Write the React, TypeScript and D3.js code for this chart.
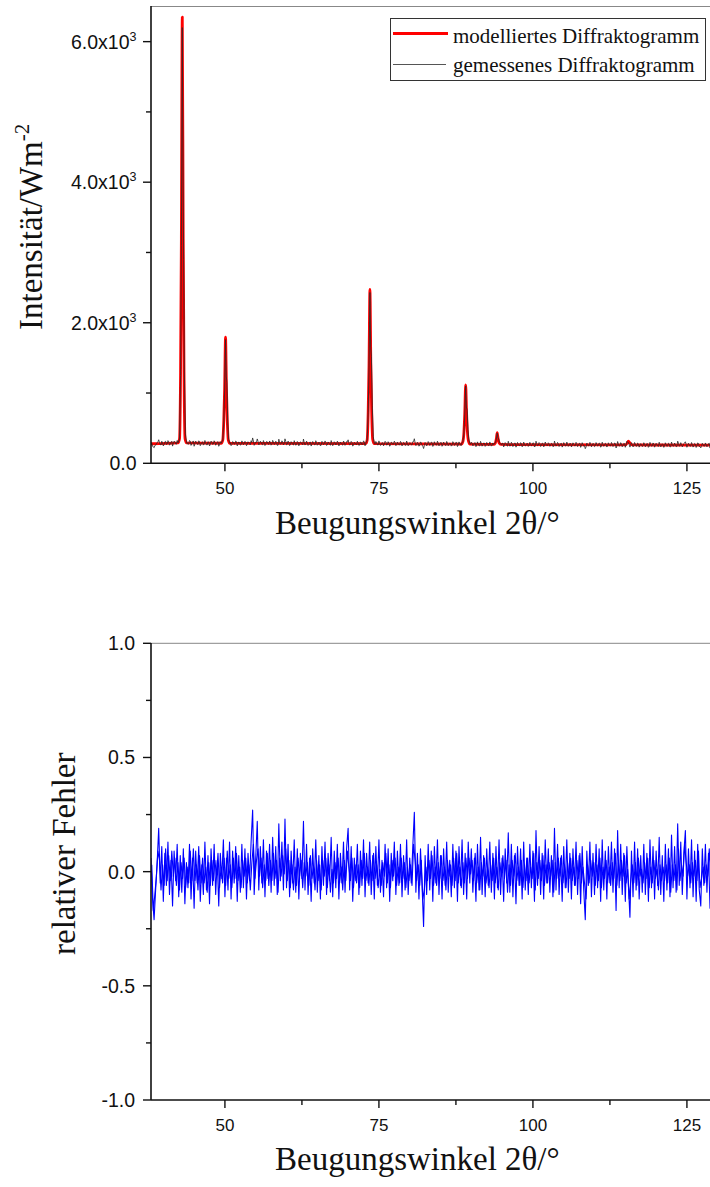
import React from 'react';
import * as d3 from 'd3';

// ---------- axis ticks ----------
const xTicksMajor = [50, 75, 100, 125];
const xTicksMinor = [62.5, 87.5, 112.5];
const topYMajor = [0, 2000, 4000, 6000];
const topYLabels = ['0.0', '2.0x10', '4.0x10', '6.0x10'];
const topYSup = ['', '3', '3', '3'];
const topYMinor = [1000, 3000, 5000];
const botYMajor = [-1, -0.5, 0, 0.5, 1];
const botYLabels = ['-1.0', '-0.5', '0.0', '0.5', '1.0'];
const botYMinor = [-0.75, -0.25, 0.25, 0.75];

// ---------- modelled diffractogram ----------
const modelX = [
  38, 42.38, 42.63, 42.8, 42.93, 43.08, 43.23, 43.36, 43.53, 43.78,
  49.4, 49.65, 49.82, 49.95, 50.1, 50.25, 50.38, 50.55, 50.8,
  72.84, 73.09, 73.26, 73.39, 73.54, 73.69, 73.82, 73.99, 74.24,
  88.38, 88.63, 88.8, 88.93, 89.08, 89.23, 89.36, 89.53, 89.78,
  93.6, 93.9, 94.06, 94.2, 94.34, 94.5, 94.8,
  115.0, 115.3, 115.5, 115.75, 116.1, 130,
];
const modelY = [
  278, 290, 350, 1300, 3200, 6350, 3200, 1300, 350, 290,
  285, 330, 620, 1050, 1795, 1050, 620, 330, 285,
  280, 330, 740, 1380, 2475, 1400, 760, 340, 280,
  274, 310, 440, 700, 1115, 720, 460, 320, 274,
  268, 290, 350, 435, 355, 292, 268,
  262, 285, 315, 288, 262, 258,
];

const measPeakX = [
  42.38, 42.63, 42.8, 42.93, 43.08, 43.2, 43.3, 43.42, 43.58, 43.78,
  49.4, 49.65, 49.82, 49.95, 50.1, 50.22, 50.32, 50.45, 50.6, 50.8,
  72.84, 73.09, 73.26, 73.39, 73.54, 73.66, 73.78, 73.92, 74.08, 74.26,
  88.38, 88.63, 88.8, 88.93, 89.08, 89.2, 89.32, 89.45, 89.6, 89.8,
  93.6, 93.9, 94.06, 94.2, 94.32, 94.44, 94.58, 94.8,
];
const measPeakY = [
  290, 345, 1250, 3100, 6200, 4200, 2900, 1300, 420, 290,
  285, 330, 600, 1030, 1760, 1240, 1150, 600, 340, 285,
  280, 330, 720, 1360, 2430, 1650, 1520, 820, 380, 280,
  274, 310, 430, 690, 1100, 800, 755, 480, 330, 274,
  268, 290, 345, 430, 370, 345, 295, 268,
];

// ---------- relative error ----------
// two interleaved sample sets: A at 38.000 + k*0.25, B at 38.125 + k*0.25
const residualStart = 38;
const residualStep = 0.25;
const residualA = [
  0.06, -0.12, -0.21, -0.08, 0.04, 0.19, -0.05, 0.11, -0.13, 0.08, -0.06, 0.13, -0.1, 0.05, -0.15, 0.09, -0.04, 0.12, -0.11, 0.07,
  -0.09, 0.1, -0.14, 0.04, -0.07, 0.12, -0.12, 0.06, -0.16, 0.09, -0.05, 0.11, -0.13, 0.03, -0.1, 0.13, -0.08, 0.07, -0.14, 0.1,
  -0.06, 0.12, -0.1, 0.05, -0.15, 0.08, -0.03, 0.14, -0.11, 0.06, -0.08, 0.13, -0.12, 0.09, -0.05, 0.11, -0.13, 0.07, -0.09, 0.12,
  -0.07, 0.1, -0.12, 0.08, -0.04, 0.13, 0.27, -0.1, 0.06, 0.22, -0.08, 0.11, -0.05, 0.14, -0.11, 0.09, -0.03, 0.12, -0.09, 0.15,
  -0.06, 0.11, -0.1, 0.21, -0.04, 0.13, -0.08, 0.23, -0.07, 0.12, -0.11, 0.09, -0.05, 0.14, -0.09, 0.1, -0.12, 0.08, -0.03, 0.22,
  -0.08, 0.12, -0.1, 0.06, -0.13, 0.1, -0.05, 0.14, -0.09, 0.07, -0.12, 0.11, -0.06, 0.13, -0.1, 0.08, -0.04, 0.15, -0.11, 0.09,
  -0.07, 0.12, -0.12, 0.08, -0.05, 0.13, -0.09, 0.1, 0.19, -0.08, 0.11, -0.13, 0.06, -0.04, 0.12, -0.1, 0.09, -0.06, 0.14, -0.11,
  0.08, -0.05, 0.13, -0.1, 0.07, -0.12, 0.11, -0.06, 0.14, -0.09, 0.05, -0.11, 0.12, -0.07, 0.1, -0.13, 0.08, -0.04, 0.13, -0.1,
  0.09, -0.06, 0.12, -0.11, 0.07, -0.08, 0.14, -0.1, 0.06, -0.05, 0.11, 0.26, -0.09, 0.08, -0.12, 0.1, -0.06, -0.24, 0.07, -0.1,
  0.12, -0.08, 0.09, -0.13, 0.11, -0.05, 0.14, -0.1, 0.07, -0.12, 0.1, -0.06, 0.13, -0.09, 0.05, -0.11, 0.12, -0.07, 0.09, -0.13,
  0.11, -0.06, 0.14, -0.1, 0.08, -0.12, 0.13, -0.05, 0.1, -0.09, 0.06, -0.13, 0.12, -0.08, 0.15, -0.1, 0.07, -0.11, 0.1, -0.06,
  0.13, -0.09, 0.08, -0.12, 0.11, -0.07, 0.14, -0.1, 0.06, -0.13, 0.1, -0.05, 0.17, -0.09, 0.12, -0.11, 0.07, -0.14, 0.11, -0.06,
  0.1, -0.12, 0.13, -0.08, 0.06, -0.1, 0.12, -0.07, 0.09, -0.13, 0.18, -0.06, 0.11, -0.1, 0.08, -0.12, 0.14, -0.05, 0.1, -0.09,
  0.07, -0.11, 0.19, -0.08, 0.12, -0.1, 0.06, -0.13, 0.11, -0.07, 0.14, -0.09, 0.08, -0.12, 0.1, -0.06, 0.13, -0.1, 0.07, -0.14,
  0.11, -0.08, -0.21, 0.09, -0.06, 0.13, -0.11, 0.08, -0.1, 0.12, -0.07, 0.1, -0.13, 0.14, -0.08, 0.09, -0.12, 0.11, -0.05, 0.13,
  -0.09, 0.1, -0.17, 0.18, -0.07, 0.12, -0.1, 0.08, -0.13, 0.11, -0.06, -0.2, 0.09, -0.11, 0.13, -0.08, 0.1, -0.12, 0.07, -0.09,
  0.12, -0.1, 0.08, -0.13, 0.14, -0.07, 0.11, -0.12, 0.09, -0.06, 0.15, -0.1, 0.07, -0.13, 0.12, -0.08, 0.1, -0.11, 0.16, -0.07,
  0.11, -0.09, 0.21, -0.06, 0.13, -0.1, 0.08, 0.18, -0.12, 0.1, -0.07, 0.14, -0.11, 0.09, -0.13, 0.12, -0.08, -0.15, 0.1, -0.06,
  0.12, -0.09, 0.08, -0.16, 0.1, -0.12, 0.07, -0.05,
];
const residualB = [
  0.03, -0.17, -0.1, -0.02, 0.09, 0.05, -0.08, 0.03, -0.06, 0.1, -0.04, 0.07, -0.04, 0.09, -0.02, 0.06, -0.06, 0.04, -0.08, 0.04,
  -0.03, 0.06, -0.07, 0.02, -0.05, 0.09, -0.04, 0.1, -0.04, 0.03, -0.08, 0.07, -0.05, 0.06, -0.05, 0.02, -0.09, 0.04, -0.06, 0.05,
  -0.04, 0.05, -0.02, 0.08, -0.07, 0.02, -0.05, 0.06, -0.06, 0.09, -0.03, 0.03, -0.07, 0.06, -0.03, 0.08, -0.04, 0.02, -0.07, 0.05,
  -0.02, 0.06, -0.05, 0.03, -0.08, 0.04, 0.12, -0.03, 0.05, 0.1, -0.02, 0.06, -0.07, 0.03, -0.04, 0.08, -0.06, 0.05, -0.04, 0.08,
  -0.03, 0.05, -0.09, 0.06, -0.02, 0.07, -0.01, 0.1, -0.04, 0.05, -0.07, 0.03, -0.08, 0.02, -0.06, 0.06, -0.02, 0.05, -0.07, 0.04,
  -0.02, 0.04, -0.06, 0.07, -0.03, 0.02, -0.08, 0.05, -0.04, 0.03, -0.08, 0.05, -0.02, 0.06, -0.07, 0.03, -0.09, 0.01, -0.05, 0.04,
  -0.03, 0.06, -0.05, 0.02, -0.08, 0.05, -0.04, 0.09, 0.02, -0.04, 0.06, -0.07, 0.03, -0.05, 0.03, -0.07, 0.05, -0.03, 0.08, -0.04,
  0.02, -0.06, 0.05, -0.04, 0.08, -0.03, 0.03, -0.07, 0.01, -0.06, 0.04, -0.02, 0.08, -0.05, 0.03, -0.07, 0.05, -0.02, 0.06, -0.06,
  0.02, -0.05, 0.06, -0.03, 0.04, -0.07, 0.02, -0.04, 0.03, -0.06, 0.12, 0.05, -0.04, 0.03, -0.06, 0.05, -0.12, -0.08, 0.02, -0.04,
  0.05, -0.03, 0.07, -0.06, 0.02, -0.06, 0.04, -0.03, 0.07, -0.04, 0.02, -0.08, 0.05, -0.02, 0.03, -0.06, 0.06, -0.04, 0.08, -0.05,
  0.02, -0.07, 0.04, -0.05, 0.06, -0.03, 0.06, -0.01, 0.05, -0.04, 0.08, -0.05, 0.02, -0.08, 0.04, -0.02, 0.06, -0.05, 0.01, -0.07,
  0.03, -0.04, 0.06, -0.05, 0.02, -0.08, 0.04, -0.02, 0.07, -0.03, 0.05, -0.09, 0.03, -0.06, 0.05, -0.02, 0.08, -0.04, 0.02, -0.06,
  0.05, -0.07, 0.03, -0.04, 0.06, -0.05, 0.02, -0.03, 0.08, -0.08, 0.04, -0.03, 0.05, -0.04, 0.07, -0.06, 0.03, -0.05, 0.04, -0.02,
  0.05, -0.09, 0.04, -0.03, 0.06, -0.02, 0.07, -0.05, 0.03, -0.07, 0.04, -0.03, 0.06, -0.04, 0.02, -0.06, 0.05, -0.03, 0.08, -0.05,
  0.02, -0.05, -0.12, 0.03, -0.05, 0.05, -0.02, 0.04, -0.06, 0.03, -0.04, 0.06, -0.07, 0.02, -0.03, 0.05, -0.05, 0.02, -0.06, 0.04,
  -0.03, 0.08, -0.06, 0.04, -0.04, 0.05, -0.02, 0.07, -0.05, 0.01, -0.12, -0.04, 0.03, -0.05, 0.04, -0.06, 0.06, -0.02, 0.01, -0.05,
  0.04, -0.03, 0.06, -0.07, 0.02, -0.05, 0.05, -0.03, 0.01, -0.08, 0.03, -0.04, 0.02, -0.04, 0.03, -0.05, 0.06, -0.09, 0.03, -0.04,
  0.03, -0.08, 0.1, -0.04, 0.03, -0.02, 0.12, 0.04, -0.02, 0.03, -0.05, 0.04, -0.02, 0.05, -0.04, 0.09, -0.07, -0.03, 0.02, -0.05,
  0.03, -0.02, 0.1, -0.04, 0.05, -0.01, 0.03, -0.02,
];

const legendLabels = ['modelliertes Diffraktogramm', 'gemessenes Diffraktogramm'];
const xTitle = 'Beugungswinkel 2θ/°';

// ---------- scales ----------
const X0 = 151;
const xScale = d3.scaleLinear().domain([38, 130]).range([X0, X0 + 92 * 6.16]);
const yTop = d3.scaleLinear().domain([0, 6500]).range([463.3, 6.5]);
const yBot = d3.scaleLinear().domain([-1, 1]).range([1100, 643.3]);

const RIGHT = 710;
const sansFont = '"Liberation Sans", Arial, sans-serif';
const serifFont = '"Liberation Serif", "Times New Roman", serif';

export default function App() {
  const ptsA: [number, number][] = residualA.map((v, i) => [residualStart + i * residualStep, v]);
  const ptsB: [number, number][] = residualB.map((v, i) => [residualStart + residualStep / 2 + i * residualStep, v]);
  const resPts = [...ptsA, ...ptsB].sort((a, b) => a[0] - b[0]);

  const modelAt = (x: number) => {
    const i = d3.bisectRight(modelX, x);
    if (i <= 0) return modelY[0];
    if (i >= modelX.length) return modelY[modelY.length - 1];
    const t = (x - modelX[i - 1]) / (modelX[i] - modelX[i - 1]);
    return modelY[i - 1] + t * (modelY[i] - modelY[i - 1]);
  };

  // windows covered by the measured reflections
  const windows: [number, number][] = [];
  measPeakX.forEach((x, i) => {
    if (i === 0 || x - measPeakX[i - 1] > 1) windows.push([x, x]);
    else windows[windows.length - 1][1] = x;
  });
  const inWindow = (x: number) => windows.some(([a, b]) => x >= a && x <= b);

  // measured = model * (1 + relative error) away from the reflections
  const measured: [number, number][] = [];
  resPts.forEach(([x, r]) => {
    if (!inWindow(x)) measured.push([x, modelAt(x) * (1 + r)]);
  });
  measPeakX.forEach((x, i) => measured.push([x, measPeakY[i]]));
  measured.sort((a, b) => a[0] - b[0]);

  const modelLine = d3
    .line<number>()
    .x((_, i) => xScale(modelX[i]))
    .y((d) => yTop(d))
    .curve(d3.curveMonotoneX)(modelY) as string;

  const measLine = d3
    .line<[number, number]>()
    .x((d) => xScale(d[0]))
    .y((d) => yTop(d[1]))(measured) as string;

  const resGen = d3
    .line<[number, number]>()
    .x((d) => xScale(d[0]))
    .y((d) => yBot(d[1]));
  const resLineA = resGen(ptsA) as string;
  const resLineB = resGen(ptsB) as string;

  const axisColor = '#111';

  const xAxis = (y0: number, labelBase: number, key: string) => (
    <g key={key}>
      <line x1={X0} x2={RIGHT} y1={y0} y2={y0} stroke={axisColor} strokeWidth={1.6} />
      {xTicksMajor.map((t) => (
        <g key={'M' + t}>
          <line x1={xScale(t)} x2={xScale(t)} y1={y0} y2={y0 + 8} stroke={axisColor} strokeWidth={1.4} />
          <text x={xScale(t)} y={labelBase} textAnchor="middle" fontFamily={sansFont} fontSize={17} fill="#111">
            {t}
          </text>
        </g>
      ))}
      {xTicksMinor.map((t) => (
        <line key={'m' + t} x1={xScale(t)} x2={xScale(t)} y1={y0} y2={y0 + 5} stroke={axisColor} strokeWidth={1.4} />
      ))}
    </g>
  );

  return (
    <svg
      width={710}
      height={1187}
      style={{ position: 'absolute', left: 0, top: 0, background: '#fff' }}
      xmlns="http://www.w3.org/2000/svg"
    >
      <defs>
        <clipPath id="clipTop">
          <rect x={X0} y={0} width={RIGHT - X0} height={463.3} />
        </clipPath>
        <clipPath id="clipBot">
          <rect x={X0} y={643.3} width={RIGHT - X0} height={456.7} />
        </clipPath>
      </defs>
      <rect x={0} y={0} width={710} height={1187} fill="#fff" />

      {/* ================= TOP CHART ================= */}
      <g clipPath="url(#clipTop)">
        <path d={modelLine} fill="none" stroke="#ff0000" strokeWidth={2.8} strokeLinejoin="round" />
        <path d={measLine} fill="none" stroke="#2a2a2a" strokeWidth={0.9} strokeOpacity={0.9} strokeLinejoin="round" />
      </g>
      <line x1={X0} x2={RIGHT} y1={6.5} y2={6.5} stroke="#888" strokeWidth={1} />
      <line x1={X0} x2={X0} y1={6} y2={463.3} stroke={axisColor} strokeWidth={1.6} />
      {topYMajor.map((t, i) => (
        <g key={'ty' + t}>
          <line x1={X0 - 8} x2={X0} y1={yTop(t)} y2={yTop(t)} stroke={axisColor} strokeWidth={1.4} />
          <text x={136.5} y={yTop(t) + 7} textAnchor="end" fontFamily={sansFont} fontSize={19.5} fill="#111">
            {topYLabels[i]}
            {topYSup[i] && (
              <tspan fontSize={12.5} dy={-8}>
                {topYSup[i]}
              </tspan>
            )}
          </text>
        </g>
      ))}
      {topYMinor.map((t) => (
        <line key={'tym' + t} x1={X0 - 5} x2={X0} y1={yTop(t)} y2={yTop(t)} stroke={axisColor} strokeWidth={1.4} />
      ))}
      {xAxis(463.3, 494, 'xTop')}
      <text x={275} y={534} fontFamily={serifFont} fontSize={33} fill="#111">
        {xTitle}
      </text>
      <text transform="translate(41.5,330) rotate(-90)" fontFamily={serifFont} fontSize={33} fill="#111">
        Intensität/Wm
        <tspan fontSize={21} dy={-13}>
          -2
        </tspan>
      </text>

      {/* legend */}
      <rect x={390.5} y={18.5} width={315} height={62} fill="#fff" stroke="#333" strokeWidth={1} />
      <line x1={393} x2={448} y1={33.5} y2={33.5} stroke="#ff0000" strokeWidth={3} />
      <line x1={393} x2={446} y1={64.5} y2={64.5} stroke="#555" strokeWidth={1.2} />
      <text x={453} y={42.5} fontFamily={serifFont} fontSize={21} fill="#111">
        {legendLabels[0]}
      </text>
      <text x={453} y={72} fontFamily={serifFont} fontSize={21} fill="#111">
        {legendLabels[1]}
      </text>

      {/* ================= BOTTOM CHART ================= */}
      <g clipPath="url(#clipBot)">
        <path d={resLineA} fill="none" stroke="#0000ff" strokeWidth={1.1} strokeLinejoin="round" />
        <path d={resLineB} fill="none" stroke="#0000ff" strokeWidth={1.1} strokeLinejoin="round" />
      </g>
      <line x1={X0} x2={RIGHT} y1={643.3} y2={643.3} stroke="#888" strokeWidth={1} />
      <line x1={X0} x2={X0} y1={643} y2={1100} stroke={axisColor} strokeWidth={1.6} />
      {botYMajor.map((t, i) => (
        <g key={'by' + t}>
          <line x1={X0 - 8} x2={X0} y1={yBot(t)} y2={yBot(t)} stroke={axisColor} strokeWidth={1.4} />
          <text x={135} y={yBot(t) + 7} textAnchor="end" fontFamily={sansFont} fontSize={19.5} fill="#111">
            {botYLabels[i]}
          </text>
        </g>
      ))}
      {botYMinor.map((t) => (
        <line key={'bym' + t} x1={X0 - 5} x2={X0} y1={yBot(t)} y2={yBot(t)} stroke={axisColor} strokeWidth={1.4} />
      ))}
      {xAxis(1100, 1131, 'xBot')}
      <text x={275} y={1170} fontFamily={serifFont} fontSize={33} fill="#111">
        {xTitle}
      </text>
      <text transform="translate(75,955) rotate(-90)" fontFamily={serifFont} fontSize={33} fill="#111">
        relativer Fehler
      </text>
    </svg>
  );
}
